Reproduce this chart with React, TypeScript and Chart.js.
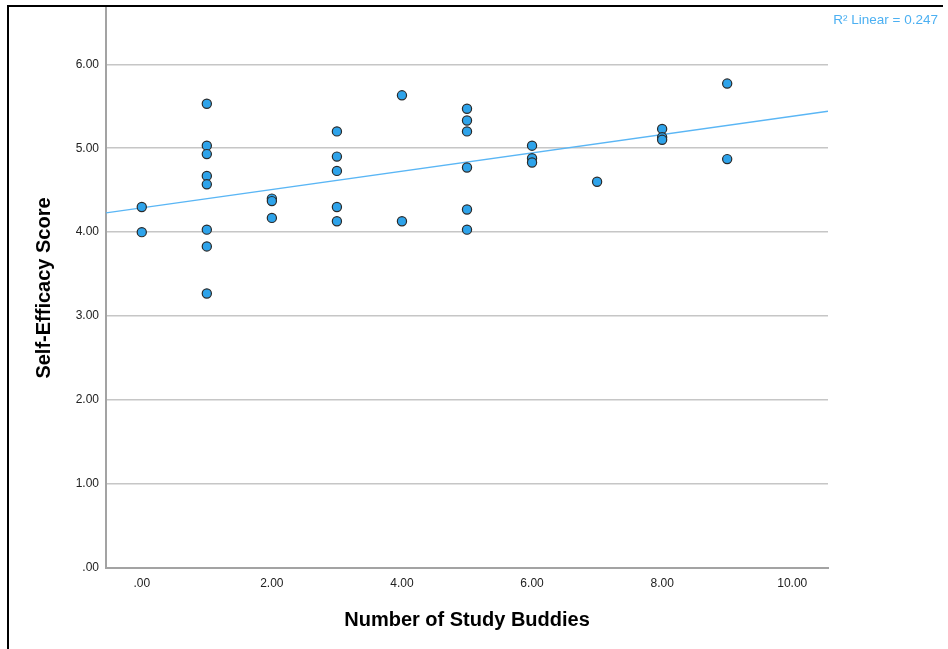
import React, { useEffect, useRef } from "react";
import { Chart, registerables } from "chart.js";

Chart.register(...registerables);

const studyBuddies = [0, 0, 1, 1, 1, 1, 1, 1, 1, 1, 2, 2, 2, 3, 3, 3, 3, 3, 4, 4, 5, 5, 5, 5, 5, 5, 6, 6, 6, 7, 8, 8, 8, 9, 9];
const selfEfficacy = [4.30, 4.00, 5.53, 5.03, 4.93, 4.67, 4.57, 4.03, 3.83, 3.27, 4.40, 4.37, 4.17, 5.20, 4.90, 4.73, 4.30, 4.13, 5.63, 4.13, 5.47, 5.33, 5.20, 4.77, 4.27, 4.03, 5.03, 4.88, 4.83, 4.60, 5.23, 5.13, 5.10, 5.77, 4.87];

const fitX = [-0.55, 10.55];
const fitY = [4.23, 5.44];

const xTicks = [0, 2, 4, 6, 8, 10];
const yTicks = [0, 1, 2, 3, 4, 5, 6];

const rSquaredLabel = "R\u00B2 Linear = 0.247";
const xTitle = "Number of Study Buddies";
const yTitle = "Self-Efficacy Score";

const FONT = 'Arial, "Liberation Sans", sans-serif';

const fmt = (v: number) => (v === 0 ? ".00" : Number(v).toFixed(2));

const labelPlugin = {
  id: "r2label",
  afterDraw(chart: any) {
    const ctx = chart.ctx;
    ctx.save();
    ctx.font = `13.5px ${FONT}`;
    ctx.fillStyle = "#4cb0f2";
    ctx.textAlign = "right";
    ctx.textBaseline = "middle";
    ctx.fillText(rSquaredLabel, 938, 20);
    ctx.restore();
  },
};

export default function App() {
  const ref = useRef<HTMLCanvasElement>(null);

  useEffect(() => {
    if (!ref.current) return;
    const points = studyBuddies.map((x, i) => ({ x, y: selfEfficacy[i] }));
    const fit = fitX.map((x, i) => ({ x, y: fitY[i] }));
    const chart = new Chart(ref.current, {
      type: "scatter",
      data: {
        datasets: [
          {
            type: "line",
            data: fit,
            borderColor: "#5ab6f5",
            borderWidth: 1.3,
            pointRadius: 0,
            showLine: true,
            fill: false,
            order: 2,
          } as any,
          {
            data: points,
            backgroundColor: "#2ea3ea",
            borderColor: "#2a2a2a",
            borderWidth: 1.2,
            pointRadius: 4.6,
            order: 1,
          },
        ],
      },
      plugins: [labelPlugin],
      options: {
        responsive: false,
        animation: false,
        devicePixelRatio: 1,
        layout: { padding: { left: 0, top: 8, right: 120, bottom: 0 } },
        plugins: { legend: { display: false }, tooltip: { enabled: false } },
        scales: {
          x: {
            type: "linear",
            min: -0.55,
            max: 10.55,
            afterBuildTicks: (s: any) => {
              s.ticks = xTicks.map((v) => ({ value: v }));
            },
            afterFit: (s: any) => {
              s.height = 81;
              s.paddingLeft = 0;
              s.paddingRight = 0;
            },
            grid: { display: false, drawTicks: false },
            border: { display: true, color: "#a3a3a3", width: 2 },
            ticks: {
              padding: 8,
              color: "#222",
              font: { family: FONT, size: 12 },
              callback: (v: any) => fmt(Number(v)),
              maxRotation: 0,
            },
            title: {
              display: true,
              text: xTitle,
              color: "#000",
              font: { family: FONT, size: 20, weight: "bold" },
              padding: { top: 0, bottom: 17 },
            },
          },
          y: {
            type: "linear",
            min: 0,
            max: 6.67,
            afterBuildTicks: (s: any) => {
              s.ticks = yTicks.map((v) => ({ value: v }));
            },
            afterFit: (s: any) => {
              s.width = 106;
              s.paddingTop = 0;
              s.paddingBottom = 0;
            },
            grid: { display: true, color: "#c6c6c6", lineWidth: 1.5, drawTicks: false },
            border: { display: true, color: "#a3a3a3", width: 2 },
            ticks: {
              padding: 7,
              color: "#222",
              font: { family: FONT, size: 12 },
              callback: (v: any) => fmt(Number(v)),
            },
            title: {
              display: true,
              text: yTitle,
              color: "#000",
              font: { family: FONT, size: 20, weight: "bold" },
              padding: { top: 32, bottom: 0 },
            },
          },
        },
      },
    });
    return () => chart.destroy();
  }, []);

  return (
    <div style={{ position: "absolute", left: 0, top: 0, width: 948, height: 649, background: "#fff" }}>
      <div
        style={{
          position: "absolute",
          left: 7,
          top: 5,
          width: 936,
          height: 644,
          borderTop: "2px solid #000",
          borderLeft: "2px solid #000",
          boxSizing: "border-box",
        }}
      />
      <canvas ref={ref} width={948} height={649} style={{ position: "absolute", left: 0, top: 0 }} />
    </div>
  );
}
